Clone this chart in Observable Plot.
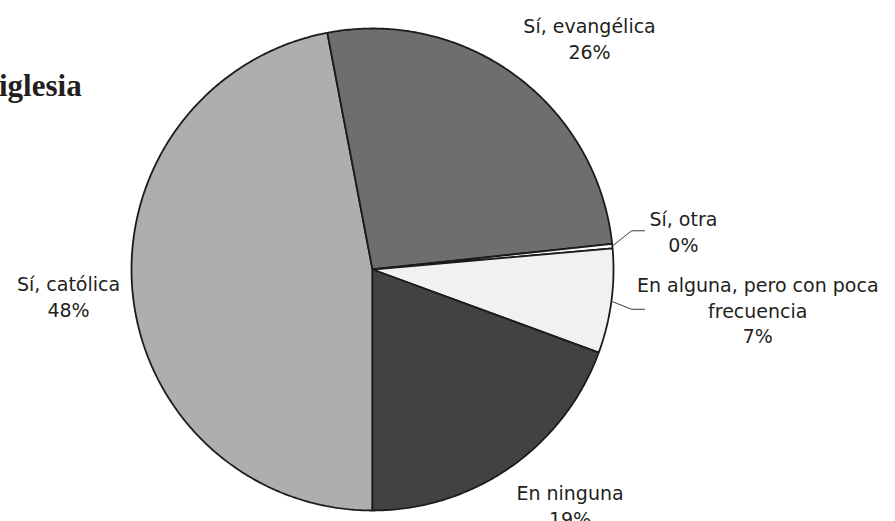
<!DOCTYPE html>
<html>
<head>
<meta charset="utf-8">
<script src="https://cdn.jsdelivr.net/npm/d3@7"></script>
<script src="https://cdn.jsdelivr.net/npm/@observablehq/plot@0.6"></script>
<style>
  html, body { margin: 0; padding: 0; background: #fff; }
  #wrap { position: relative; width: 895px; height: 521px; overflow: hidden; }
  #title { position: absolute; left: -1px; top: 70px; font-family: "Liberation Serif", "DejaVu Serif", serif; font-weight: bold; font-size: 31px; line-height: 1; color: #231f20; white-space: nowrap; }
  #chart { position: absolute; left: 0; top: 0; }
</style>
</head>
<body>
<div id="wrap">
  <div id="chart"></div>
  <div id="title">iglesia</div>
</div>
<script>
// ---- data ----
const categories = ["Sí, católica", "Sí, evangélica", "Sí, otra", "En alguna, pero con poca frecuencia", "En ninguna"];
const displayNames = ["Sí, católica", "Sí, evangélica", "Sí, otra", "En alguna, pero con poca\nfrecuencia", "En ninguna"];
const shares = [47.0, 26.3, 0.3, 7.0, 19.4];          // slice sizes as drawn
const percentLabels = ["48%", "26%", "0%", "7%", "19%"]; // printed labels
const sliceColors = ["#adaeb0", "#6d6e70", "#ffffff", "#f1f1f2", "#424244"];

// ---- layout (label placement in polar form: angle in degrees clockwise from top, radius in pie radii) ----
const labelPlacement = [[265.1, 1.266], [43.1, 1.318], [82.9, 1.300], [95.9, 1.607], [140.0, 1.275]];
const leaderFor = [false, false, true, true, false];

const rows = categories.map((c, i) => ({name: c, share: shares[i], i}));
const arcs = d3.pie().sort(null).value(d => d.share).startAngle(Math.PI).endAngle(3 * Math.PI)(rows);

function slicePolygon(a) {
  const pts = [{x: 0, y: 0}];
  const step = Math.PI / 360;
  const n = Math.max(2, Math.ceil((a.endAngle - a.startAngle) / step));
  for (let k = 0; k <= n; k++) {
    const t = a.startAngle + (a.endAngle - a.startAngle) * k / n;
    pts.push({x: Math.sin(t), y: Math.cos(t)});
  }
  return pts;
}

const labels = arcs.map((a, i) => {
  const [deg, r] = labelPlacement[i];
  const t = deg * Math.PI / 180;
  return {x: r * Math.sin(t), y: r * Math.cos(t), text: displayNames[i] + "\n" + percentLabels[i]};
});

const leaders = [];
arcs.forEach((a, i) => {
  if (!leaderFor[i]) return;
  const mid = (a.startAngle + a.endAngle) / 2;
  const ly = labels[i].y;
  leaders.push({id: i, x: Math.sin(mid), y: Math.cos(mid)});
  leaders.push({id: i, x: 1.075, y: ly});
  leaders.push({id: i, x: 1.129, y: ly});
});

const R = 241, cx = 372, cy = 269, W = 895, H = 521;

const chart = Plot.plot({
  width: W,
  height: H,
  marginLeft: cx - R,
  marginRight: W - (cx + R),
  marginTop: cy - R,
  marginBottom: H - (cy + R),
  x: {domain: [-1, 1], axis: null},
  y: {domain: [-1, 1], axis: null},
  style: {fontFamily: "'DejaVu Sans', sans-serif", background: "#fff", overflow: "visible"},
  marks: [
    ...arcs.map((a, i) => Plot.line(slicePolygon(a), {
      x: "x", y: "y", curve: "linear-closed",
      fill: sliceColors[i], stroke: "#1c1a1b", strokeWidth: 1.8, strokeLinejoin: "miter"
    })),
    Plot.line(leaders, {x: "x", y: "y", z: "id", stroke: "#3a3a3a", strokeWidth: 1}),
    Plot.text(labels, {
      x: "x", y: "y", text: "text", fontSize: 19, lineHeight: 1.35,
      lineAnchor: "middle", textAnchor: "middle", fill: "#231f20"
    })
  ]
});
document.getElementById("chart").appendChild(chart);
</script>
</body>
</html>
